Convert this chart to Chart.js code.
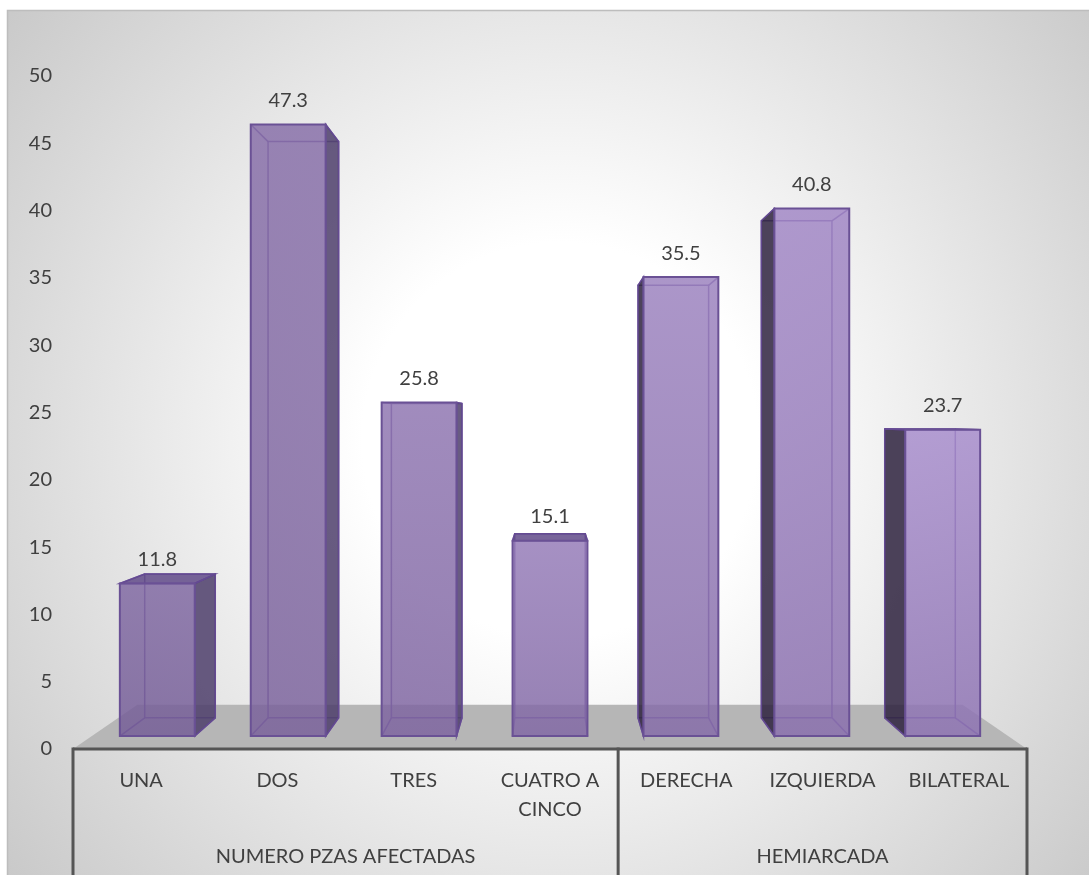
<!DOCTYPE html>
<html>
<head>
<meta charset="utf-8">
<script src="https://cdn.jsdelivr.net/npm/chart.js@4.4.1/dist/chart.umd.min.js"></script>
<style>
  html, body { margin: 0; padding: 0; background: #ffffff; }
  #wrap { position: relative; width: 1091px; height: 875px; }
</style>
</head>
<body>
<div id="wrap"><canvas id="chart"></canvas></div>
<script>
// categorias y valores (%)
const categories = ['UNA', 'DOS', 'TRES', ['CUATRO A', 'CINCO'], 'DERECHA', 'IZQUIERDA', 'BILATERAL'];
const values = [11.8, 47.3, 25.8, 15.1, 35.5, 40.8, 23.7];
const groupLabels = ['NUMERO PZAS AFECTADAS', 'HEMIARCADA'];
const groupSizes = [4, 3];
const yMin = 0;
const yMax = 50;
const yStep = 5;

const FONT = 'Lato, "Open Sans", sans-serif';
const TEXT = '#404040';

// perspectiva: nivel del ojo (en valor del eje) y profundidades relativas al plano del piso
const EYE_LEVEL = 24.4;
const DEPTH_FRONT = 0.9605;
const DEPTH_BACK = 0.905;
const DEPTH_FLOOR_BACK = 0.865;

const project = (vp, x, y, d) => [vp.x + (x - vp.x) * d, vp.y + (y - vp.y) * d];

function poly(ctx, pts) {
    ctx.beginPath();
    ctx.moveTo(pts[0][0], pts[0][1]);
    for (let i = 1; i < pts.length; i++) ctx.lineTo(pts[i][0], pts[i][1]);
    ctx.closePath();
}

const backgroundPlugin = {
    id: 'fondo',
    beforeDraw(chart) {
        const ctx = chart.ctx;
        const w = chart.width, h = chart.height;
        ctx.save();
        ctx.fillStyle = '#ffffff';
        ctx.fillRect(0, 0, w, h);
        const g = ctx.createRadialGradient(560, 440, 0, 560, 440, 760);
        g.addColorStop(0, '#ffffff');
        g.addColorStop(0.26, '#ffffff');
        g.addColorStop(1, '#c3c3c3');
        ctx.fillStyle = g;
        ctx.fillRect(7, 10, w - 9, h - 10);
        ctx.strokeStyle = '#bdbdbd';
        ctx.lineWidth = 1.5;
        ctx.beginPath();
        ctx.moveTo(7.5, h);
        ctx.lineTo(7.5, 10.5);
        ctx.lineTo(w - 2, 10.5);
        ctx.stroke();
        ctx.restore();
    }
};

// barras 3D, piso, tabla de categorias y etiquetas de valor
const bars3dPlugin = {
    id: 'bars3d',
    beforeDatasetsDraw(chart) {
        const ctx = chart.ctx;
        const area = chart.chartArea;
        const x = chart.scales.x;
        const y = chart.scales.y;
        const vp = { x: (area.left + area.right) / 2, y: y.getPixelForValue(EYE_LEVEL) };
        const base = y.getPixelForValue(0);
        const left = x.getPixelForValue(-0.5);
        const right = x.getPixelForValue(categories.length - 0.5);

        ctx.save();
        // piso
        poly(ctx, [
            [left, base], [right, base],
            project(vp, right, base, DEPTH_FLOOR_BACK),
            project(vp, left, base, DEPTH_FLOOR_BACK)
        ]);
        ctx.fillStyle = '#b6b6b6';
        ctx.fill();

        const meta = chart.getDatasetMeta(0);
        meta.data.forEach((bar, i) => {
            const p = bar.getProps(['x', 'y', 'base', 'width'], true);
            const x1 = p.x - p.width / 2, x2 = p.x + p.width / 2;
            const fTL = project(vp, x1, p.y, DEPTH_FRONT), fTR = project(vp, x2, p.y, DEPTH_FRONT);
            const fBL = project(vp, x1, p.base, DEPTH_FRONT), fBR = project(vp, x2, p.base, DEPTH_FRONT);
            const bTL = project(vp, x1, p.y, DEPTH_BACK), bTR = project(vp, x2, p.y, DEPTH_BACK);
            const bBL = project(vp, x1, p.base, DEPTH_BACK), bBR = project(vp, x2, p.base, DEPTH_BACK);

            // aristas ocultas (se ven a traves de la cara frontal)
            ctx.strokeStyle = 'rgba(110, 84, 156, 0.9)';
            ctx.lineWidth = 1.5;
            poly(ctx, [bTL, bTR, bBR, bBL]);
            ctx.stroke();
            [[fTL, bTL], [fTR, bTR], [fBL, bBL], [fBR, bBR]].forEach(([a, b]) => {
                ctx.beginPath();
                ctx.moveTo(a[0], a[1]);
                ctx.lineTo(b[0], b[1]);
                ctx.stroke();
            });

            // caras laterales
            if (bTL[0] < fTL[0]) {
                poly(ctx, [fTL, bTL, bBL, fBL]);
                ctx.fillStyle = 'rgba(46, 34, 62, 0.85)';
                ctx.fill();
            }
            if (bTR[0] > fTR[0]) {
                poly(ctx, [fTR, bTR, bBR, fBR]);
                ctx.fillStyle = 'rgba(77, 62, 107, 0.85)';
                ctx.fill();
            }
            // cara superior (solo visible bajo el nivel del ojo)
            if (bTL[1] < fTL[1]) {
                poly(ctx, [fTL, fTR, bTR, bTL]);
                ctx.fillStyle = 'rgba(96, 74, 136, 0.85)';
                ctx.fill();
            }
            // contorno exterior de caras laterales y superior
            ctx.strokeStyle = 'rgba(100, 74, 146, 0.95)';
            ctx.lineWidth = 1.5;
            if (bTL[0] < fTL[0]) { poly(ctx, [fTL, bTL, bBL, fBL]); ctx.stroke(); }
            if (bTR[0] > fTR[0]) { poly(ctx, [fTR, bTR, bBR, fBR]); ctx.stroke(); }
            if (bTL[1] < fTL[1]) { poly(ctx, [fTL, fTR, bTR, bTL]); ctx.stroke(); }

            // cara frontal: mas clara hacia la derecha y arriba
            const g = ctx.createLinearGradient(0, fTL[1], 0, fBL[1]);
            const light = Math.max(0, Math.min(1, (fTL[0] - area.left) / (area.right - area.left)));
            const r = Math.round(118 + 30 * light), gg = Math.round(94 + 26 * light), b = Math.round(152 + 34 * light);
            const up = Math.round(6 + 18 * light);
            g.addColorStop(0, `rgba(${r + up}, ${gg + up}, ${b + up}, 0.82)`);
            g.addColorStop(1, `rgba(${r - 4}, ${gg - 4}, ${b - 4}, 0.82)`);
            poly(ctx, [fTL, fTR, fBR, fBL]);
            ctx.fillStyle = g;
            ctx.fill();
            ctx.strokeStyle = '#6a5195';
            ctx.lineWidth = 2;
            ctx.stroke();

            // etiqueta de valor
            ctx.fillStyle = TEXT;
            ctx.font = `20px ${FONT}`;
            ctx.textAlign = 'center';
            ctx.textBaseline = 'middle';
            ctx.fillText(values[i].toFixed(1), (fTL[0] + fTR[0]) / 2, fTL[1] - 24);
        });
        ctx.restore();
    },
    afterDraw(chart) {
        const ctx = chart.ctx;
        const x = chart.scales.x;
        const y = chart.scales.y;
        const base = y.getPixelForValue(0);
        const bottom = chart.height;
        ctx.save();
        ctx.strokeStyle = '#555555';
        ctx.lineWidth = 3;
        ctx.beginPath();
        ctx.moveTo(x.getPixelForValue(-0.5), base);
        ctx.lineTo(x.getPixelForValue(categories.length - 0.5), base);
        ctx.stroke();

        // separadores de grupo y titulos
        let start = 0;
        ctx.font = `20px ${FONT}`;
        ctx.fillStyle = TEXT;
        ctx.textAlign = 'center';
        ctx.textBaseline = 'middle';
        const edges = [x.getPixelForValue(-0.5)];
        groupSizes.forEach((n, gi) => {
            const a = x.getPixelForValue(start - 0.5);
            const b = x.getPixelForValue(start + n - 0.5);
            edges.push(b);
            ctx.fillText(groupLabels[gi], (a + b) / 2, 857);
            start += n;
        });
        edges.forEach(px => {
            ctx.beginPath();
            ctx.moveTo(px, base - 1.5);
            ctx.lineTo(px, bottom);
            ctx.stroke();
        });
        ctx.restore();
    }
};

new Chart(document.getElementById('chart'), {
    type: 'bar',
    data: {
        labels: categories,
        datasets: [{
            data: values,
            backgroundColor: 'rgba(0,0,0,0)',
            borderWidth: 0,
            barPercentage: 0.572,
            categoryPercentage: 1
        }]
    },
    options: {
        responsive: true,
        maintainAspectRatio: false,
        animation: false,
        devicePixelRatio: 1,
        layout: { padding: { top: 76, right: 64, bottom: 0, left: 0 } },
        plugins: { legend: { display: false }, tooltip: { enabled: false } },
        scales: {
            x: {
                grid: { display: false, drawTicks: false },
                border: { display: false },
                afterFit: (scale) => { scale.height = 126; },
                ticks: {
                    color: TEXT,
                    font: { family: FONT, size: 20, lineHeight: 1.45 },
                    padding: 17,
                    autoSkip: false,
                    maxRotation: 0
                }
            },
            y: {
                min: yMin,
                max: yMax,
                grid: { display: false, drawTicks: false },
                border: { display: false },
                afterFit: (scale) => { scale.width = 73; },
                ticks: {
                    stepSize: yStep,
                    color: TEXT,
                    font: { family: FONT, size: 20 },
                    padding: 21
                }
            }
        }
    },
    plugins: [backgroundPlugin, bars3dPlugin]
});
</script>
</body>
</html>
